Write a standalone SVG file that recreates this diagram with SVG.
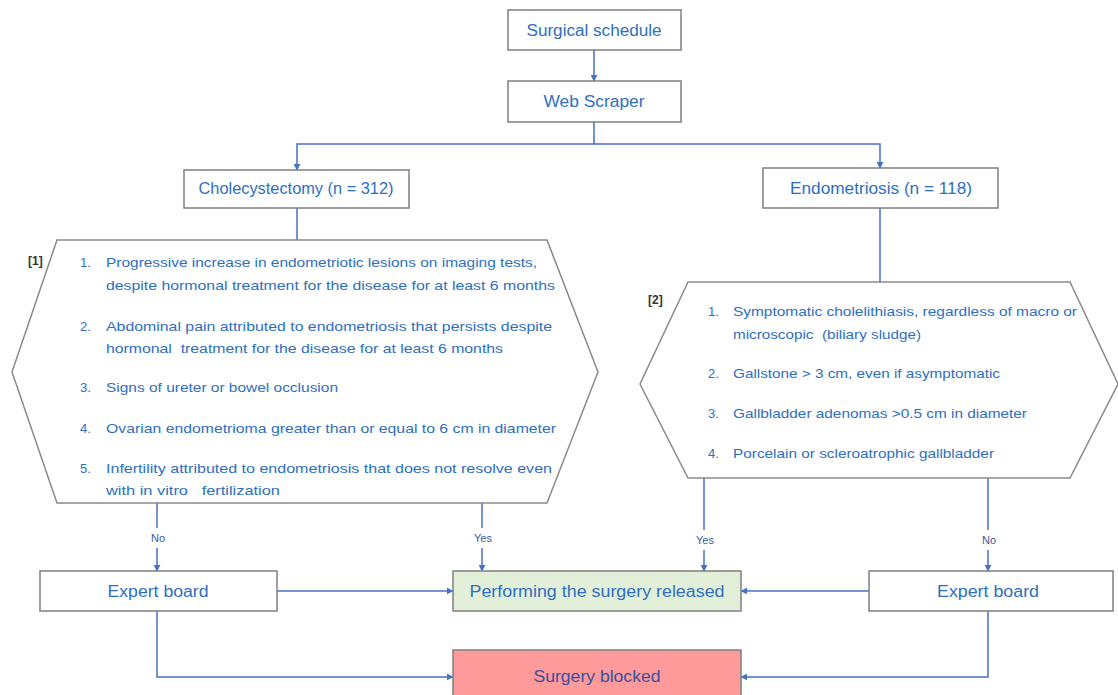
<svg xmlns="http://www.w3.org/2000/svg" width="1118" height="695" viewBox="0 0 1118 695">
<defs>
<marker id="ah" viewBox="0 0 10 10" refX="9" refY="5" markerWidth="7" markerHeight="7" orient="auto" markerUnits="userSpaceOnUse">
<path d="M0,0 L10,5 L0,10 z" fill="#4472c4"/>
</marker>
<style>
.box{fill:#fff;stroke:#7f7f7f;stroke-width:1.5}
.hex{fill:#fff;stroke:#8a8a8a;stroke-width:1.5}
.t{font-family:"Liberation Sans",Arial,sans-serif;font-size:16px;fill:#2e6fc0;text-anchor:middle;dominant-baseline:central}
.h{font-family:"Liberation Sans",Arial,sans-serif;font-size:13px;fill:#2e6fc0;dominant-baseline:central;white-space:pre}
.ref{font-family:"Liberation Sans",Arial,sans-serif;font-size:12px;font-weight:bold;fill:#333;dominant-baseline:central}
.lbl{font-family:"Liberation Sans",Arial,sans-serif;font-size:11px;fill:#3a5a9a;text-anchor:middle;dominant-baseline:central}
.c{fill:none;stroke:#4472c4;stroke-width:1.5}
</style>
</defs>
<rect width="1118" height="695" fill="#fff"/>

<g id="connectors">
<line class="c" x1="594" y1="50" x2="594" y2="81" marker-end="url(#ah)"/>
<polyline class="c" points="594,122 594,144 297,144 297,170" marker-end="url(#ah)"/>
<polyline class="c" points="594,144 880,144 880,168" marker-end="url(#ah)"/>
<line class="c" x1="297" y1="208" x2="297" y2="240"/>
<line class="c" x1="880" y1="208" x2="880" y2="282"/>
<line class="c" x1="157" y1="503" x2="157" y2="528"/>
<line class="c" x1="157" y1="548" x2="157" y2="571" marker-end="url(#ah)"/>
<line class="c" x1="482" y1="503" x2="482" y2="528"/>
<line class="c" x1="482" y1="548" x2="482" y2="571" marker-end="url(#ah)"/>
<line class="c" x1="704" y1="478" x2="704" y2="530"/>
<line class="c" x1="704" y1="550" x2="704" y2="571" marker-end="url(#ah)"/>
<line class="c" x1="988" y1="478" x2="988" y2="530"/>
<line class="c" x1="988" y1="550" x2="988" y2="571" marker-end="url(#ah)"/>
<line class="c" x1="277" y1="591" x2="453" y2="591" marker-end="url(#ah)"/>
<line class="c" x1="869" y1="591" x2="741" y2="591" marker-end="url(#ah)"/>
<polyline class="c" points="157,611 157,677 453,677" marker-end="url(#ah)"/>
<polyline class="c" points="988,611 988,677 741,677" marker-end="url(#ah)"/>
<text class="lbl" x="158" y="538">No</text>
<text class="lbl" x="483" y="538">Yes</text>
<text class="lbl" x="705" y="540">Yes</text>
<text class="lbl" x="989" y="540">No</text>
</g>

<g id="surgical-schedule">
<rect class="box" x="508" y="10" width="173" height="40"/>
<text class="t" x="594" y="30" textLength="135" lengthAdjust="spacingAndGlyphs">Surgical schedule</text>
</g>
<g id="web-scraper">
<rect class="box" x="508" y="81" width="173" height="41"/>
<text class="t" x="594" y="101" textLength="101" lengthAdjust="spacingAndGlyphs">Web Scraper</text>
</g>
<g id="cholecystectomy">
<rect class="box" x="184" y="170" width="225" height="38"/>
<text class="t" x="296" y="188" textLength="195" lengthAdjust="spacingAndGlyphs">Cholecystectomy (n = 312)</text>
</g>
<g id="endometriosis">
<rect class="box" x="763" y="168" width="235" height="40"/>
<text class="t" x="881" y="188" textLength="182" lengthAdjust="spacingAndGlyphs">Endometriosis (n = 118)</text>
</g>

<g id="criteria-1">
<polygon class="hex" points="57,240 547,240 598,372 547,503 57,503 12,372"/>
<text class="ref" x="28" y="261">[1]</text>
<text class="h" x="80" y="262">1.</text>
<text class="h" x="106" y="262" textLength="431" lengthAdjust="spacingAndGlyphs">Progressive increase in endometriotic lesions on imaging tests,</text>
<text class="h" x="106" y="285" textLength="449" lengthAdjust="spacingAndGlyphs">despite hormonal treatment for the disease for at least 6 months</text>
<text class="h" x="80" y="326">2.</text>
<text class="h" x="106" y="326" textLength="446" lengthAdjust="spacingAndGlyphs">Abdominal pain attributed to endometriosis that persists despite</text>
<text class="h" x="106" y="348" textLength="397" lengthAdjust="spacingAndGlyphs" xml:space="preserve">hormonal  treatment for the disease for at least 6 months</text>
<text class="h" x="80" y="387">3.</text>
<text class="h" x="106" y="387" textLength="232" lengthAdjust="spacingAndGlyphs">Signs of ureter or bowel occlusion</text>
<text class="h" x="80" y="428">4.</text>
<text class="h" x="106" y="428" textLength="450" lengthAdjust="spacingAndGlyphs">Ovarian endometrioma greater than or equal to 6 cm in diameter</text>
<text class="h" x="80" y="468">5.</text>
<text class="h" x="106" y="468" textLength="446" lengthAdjust="spacingAndGlyphs">Infertility attributed to endometriosis that does not resolve even</text>
<text class="h" x="106" y="490" textLength="174" lengthAdjust="spacingAndGlyphs" xml:space="preserve">with in vitro   fertilization</text>
</g>

<g id="criteria-2">
<polygon class="hex" points="688,282 1070,282 1118,384 1070,478 688,478 640,384"/>
<text class="ref" x="648" y="300">[2]</text>
<text class="h" x="708" y="311">1.</text>
<text class="h" x="733" y="311" textLength="344" lengthAdjust="spacingAndGlyphs">Symptomatic cholelithiasis, regardless of macro or</text>
<text class="h" x="733" y="334" textLength="188" lengthAdjust="spacingAndGlyphs" xml:space="preserve">microscopic  (biliary sludge)</text>
<text class="h" x="708" y="373">2.</text>
<text class="h" x="733" y="373" textLength="267" lengthAdjust="spacingAndGlyphs">Gallstone &gt; 3 cm, even if asymptomatic</text>
<text class="h" x="708" y="413">3.</text>
<text class="h" x="733" y="413" textLength="294" lengthAdjust="spacingAndGlyphs">Gallbladder adenomas &gt;0.5 cm in diameter</text>
<text class="h" x="708" y="453">4.</text>
<text class="h" x="733" y="453" textLength="261" lengthAdjust="spacingAndGlyphs">Porcelain or scleroatrophic gallbladder</text>
</g>

<g id="expert-board-left">
<rect class="box" x="40" y="571" width="237" height="40"/>
<text class="t" x="158" y="591" textLength="101" lengthAdjust="spacingAndGlyphs">Expert board</text>
</g>
<g id="surgery-released">
<rect class="box" x="453" y="571" width="288" height="40" style="fill:#e2efd9"/>
<text class="t" x="597" y="591" textLength="255" lengthAdjust="spacingAndGlyphs">Performing the surgery released</text>
</g>
<g id="expert-board-right">
<rect class="box" x="869" y="571" width="244" height="40"/>
<text class="t" x="988" y="591" textLength="102" lengthAdjust="spacingAndGlyphs">Expert board</text>
</g>
<g id="surgery-blocked">
<rect class="box" x="453" y="650" width="288" height="50" style="fill:#ff9a9a"/>
<text class="t" x="597" y="676" textLength="127" lengthAdjust="spacingAndGlyphs" style="fill:#3b4fa0">Surgery blocked</text>
</g>
</svg>
